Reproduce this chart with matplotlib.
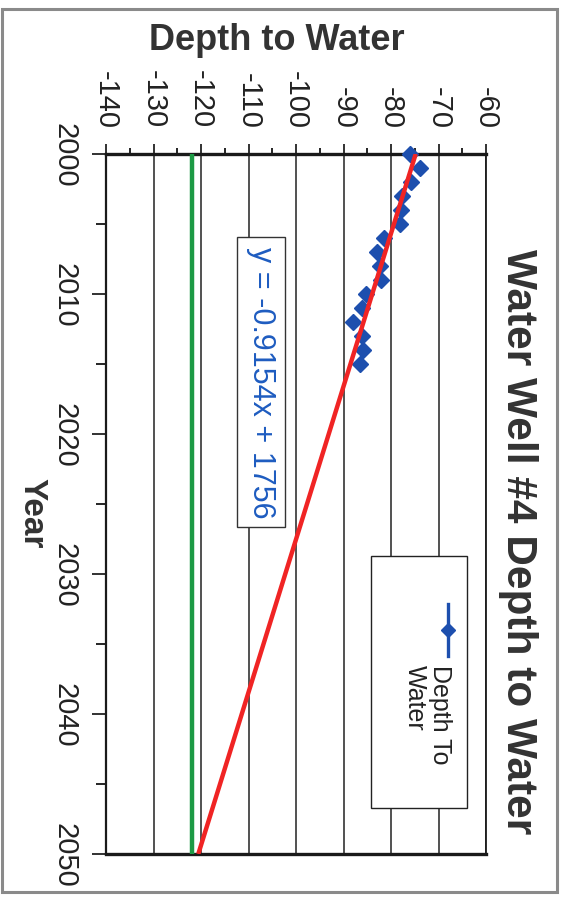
import matplotlib
matplotlib.use("Agg")
import matplotlib.pyplot as plt
from matplotlib.lines import Line2D
from matplotlib.patches import Rectangle
from matplotlib.ticker import MultipleLocator

plt.rcParams['font.family'] = ['Liberation Sans', 'DejaVu Sans']
plt.rcParams['axes.unicode_minus'] = False

# measured depth to water, one reading per year
years = [2000, 2001, 2002, 2003, 2004, 2005, 2006, 2007,
         2008, 2009, 2010, 2011, 2012, 2013, 2014, 2015]
depth = [-76.0, -73.8, -75.8, -77.7, -77.9, -78.1, -81.5, -83.0,
         -82.3, -82.1, -85.3, -86.2, -87.9, -86.2, -86.0, -86.5]

# linear trend shown on the chart
slope = -0.9154
intercept = 1756
trend_years = [2000, 2050]

# pump intake level (green line)
limit_depth = -122

year_ticks = [2000, 2010, 2020, 2030, 2040, 2050]
depth_ticks = [-140, -130, -120, -110, -100, -90, -80, -70, -60]

fig = plt.figure(figsize=(5.74, 9.03), dpi=100)
fig.patch.set_facecolor('white')

# grey frame around the whole chart
fig.patches.append(Rectangle((0.004, 0.011), 0.966, 0.978, transform=fig.transFigure,
                             fill=False, edgecolor='#8a8a8a', linewidth=2.2))

# chart is drawn turned on its side: depth across, years running down
ax = fig.add_axes([0.1847, 0.0532, 0.662, 0.7752])

ax.grid(True, axis='x', color='#222222', linewidth=1.1)
ax.set_axisbelow(True)

ax.axvline(limit_depth, color='#1d9a45', linewidth=3.2, zorder=3)
ax.plot(depth, years, linestyle='none', marker='D', markersize=8.5,
        color='#1d4fae', zorder=4, clip_on=False)
ax.plot([slope * y + intercept for y in trend_years], trend_years,
        color='#f02424', linewidth=3.2, zorder=5, solid_capstyle='butt')

ax.set_xlim(-140, -60)
ax.set_ylim(2050, 2000)

ax.xaxis.tick_top()
ax.set_xticks(depth_ticks)
ax.xaxis.set_minor_locator(MultipleLocator(5))
ax.set_yticks(year_ticks)
ax.yaxis.set_minor_locator(MultipleLocator(5))

ax.tick_params(axis='x', which='major', direction='out', length=7, width=1.3,
               pad=12, labelsize=21, colors='#222222')
ax.tick_params(axis='x', which='minor', direction='out', length=4, width=1.2)
ax.tick_params(axis='y', which='major', direction='out', length=10, width=1.3,
               pad=10, labelsize=21, colors='#222222')
ax.tick_params(axis='y', which='minor', direction='out', length=7, width=1.2)

for lab in ax.get_xticklabels():
    lab.set_rotation(270)
    lab.set_ha('center')
    lab.set_va('bottom')
for lab in ax.get_yticklabels():
    lab.set_rotation(270)
    lab.set_va('center')

ax.spines['top'].set_linewidth(2.4)
ax.spines['bottom'].set_linewidth(2.4)
ax.spines['left'].set_linewidth(1.6)
ax.spines['right'].set_linewidth(1.3)
for s in ax.spines.values():
    s.set_color('#1a1a1a')

# trend equation box
ax.text(0.408, 0.674, 'y = -0.9154x + 1756', transform=ax.transAxes,
        rotation=270, ha='center', va='center', fontsize=22, color='#1e5cc0',
        bbox=dict(boxstyle='square,pad=0.3', facecolor='white',
                  edgecolor='#333333', linewidth=1.0), zorder=6)

# legend, drawn by hand so it can be turned with the chart
ax.add_patch(Rectangle((0.697, 0.066), 0.253, 0.36, transform=ax.transAxes,
                       facecolor='white', edgecolor='#222222', linewidth=1.0, zorder=6))
ax.add_line(Line2D([0.9, 0.9], [0.283, 0.357], transform=ax.transAxes,
                   color='#1d4fae', linewidth=2.4, zorder=7))
ax.add_line(Line2D([0.9], [0.32], transform=ax.transAxes, marker='D',
                   markersize=7.5, color='#1d4fae', zorder=8))
ax.text(0.879, 0.272, 'Depth To', transform=ax.transAxes, rotation=270,
        ha='center', va='top', fontsize=18, color='#222222', zorder=8)
ax.text(0.813, 0.272, 'Water', transform=ax.transAxes, rotation=270,
        ha='center', va='top', fontsize=18, color='#222222', zorder=8)

# titles
fig.text(277 / 574, 1 - 40 / 903, 'Depth to Water', ha='center', va='center',
         fontsize=26, fontweight='bold', color='#333333')
fig.text(518 / 574, 1 - 542 / 903, 'Water Well #4 Depth to Water', rotation=270,
         ha='center', va='center', fontsize=30.5, fontweight='bold', color='#333333')
fig.text(32 / 574, 1 - 513 / 903, 'Year', rotation=270, ha='center', va='center',
         fontsize=24, fontweight='bold', color='#333333')

fig.savefig('out.png', dpi=100)
